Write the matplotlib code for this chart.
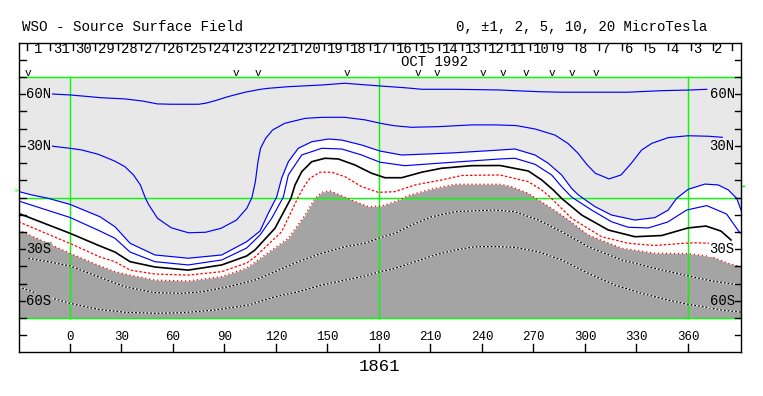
import numpy as np
import matplotlib
matplotlib.use("Agg")
import matplotlib.pyplot as plt

plt.rcParams["font.family"] = ["Liberation Mono", "DejaVu Sans Mono"]

LIGHT, DARK, GREEN, BLUE, RED = "#e8e8e8", "#a4a4a4", "#00ff00", "#0000ff", "#ff0000"

# contour traces (Carrington longitude, latitude)
A_lon = [-11, 0, 7, 18, 32, 42, 51, 59, 75, 79, 84, 92, 102, 111, 116, 127, 147, 160, 181, 195, 205, 224, 250,
         259, 273, 286, 325, 345, 362, 371]
A_lat = [60.2, 59.6, 59.0, 58.0, 57.3, 56.1, 54.4, 54.2, 54.2, 54.8, 56.1, 58.6, 61.2, 62.9, 63.5, 64.4, 65.4,
         66.4, 64.8, 63.8, 62.9, 62.9, 62.5, 62.1, 61.5, 61.2, 61.2, 62.1, 62.5, 62.9]

B_lon = [-11, 0, 7, 16.5, 26, 32, 37, 41, 44, 46, 51, 59, 69, 79, 88, 97, 103, 106, 108, 109.5, 111, 114, 118,
         125, 137, 147, 160, 172, 181, 189, 199, 215, 234, 248, 260, 271, 282.5, 290, 296, 301, 306, 314, 321,
         327, 333, 339, 348.5, 360, 372, 380]
B_lat = [29.9, 28.6, 27.6, 25.1, 21.2, 17.9, 13.1, 7.3, -0.5, -4.4, -12.1, -17.6, -20.5, -20.2, -17.9, -13.1,
         -6.3, 0, 9.2, 20.8, 28.6, 34.4, 39.2, 43.1, 46.0, 46.6, 46.6, 45.1, 43.1, 41.7, 40.8, 41.2, 42.2, 42.2,
         41.8, 39.8, 36.3, 31.5, 25.7, 19.3, 14.1, 10.8, 13.1, 19.9, 27.6, 31.5, 34.8, 35.9, 35.6, 35.0]

C_lon = [-30, -22.3, -12.6, 0, 17.5, 26.2, 35.0, 49.5, 68.9, 88.4, 102.9, 110.7, 115.5, 120.4, 123.3, 127.2,
         133.0, 140.8, 150.5, 158.3, 169.9, 180.6, 193.2, 208.7, 224.3, 250.5, 259.2, 270.9, 278.6, 286.4,
         292.2, 296.1, 305.8, 315.5, 329.1, 340.7, 348.5, 353.4, 360.2, 369.9, 377.6, 383.5, 388.4, 391.3]
C_lat = [3.5, 1.5, -0.5, -4.0, -11.2, -17.0, -26.6, -33.4, -35.3, -33.4, -25.7, -19.5, -9.2, 0.3, 11.2, 20.8,
         28.6, 32.4, 34.0, 33.4, 30.5, 27.0, 24.7, 25.3, 26.0, 27.6, 28.2, 24.7, 19.9, 13.1, 5.3, 1.5, -5.3,
         -10.2, -13.1, -11.7, -7.3, -0.5, 4.8, 7.8, 7.3, 4.4, -0.5, -8.3]

D_lon = [-30, 0, 17.5, 26.2, 35.0, 49.5, 68.9, 88.4, 102.9, 110.7, 117.5, 124.3, 127.2, 135.0, 146.6, 158.3,
         169.9, 180.6, 195.1, 214.5, 250.5, 259.2, 270.9, 280.6, 286.4, 292.2, 303.9, 315.5, 325.2, 336.9,
         348.3, 359.2, 370.9, 382.5, 390.3]
D_lat = [-2.0, -11.6, -19.5, -23.7, -31.7, -37.3, -39.2, -36.3, -29.4, -21.8, -12.1, 0.3, 13.1, 24.7, 28.6,
         28.2, 24.7, 20.5, 18.5, 19.9, 22.4, 22.8, 19.3, 13.1, 6.3, 0.3, -7.3, -14.1, -17.3, -17.7, -14.2, -7.3,
         -4.7, -9.6, -20.6]

E_lon = [-30, 0, 17.5, 26.2, 35.0, 49.5, 68.9, 88.4, 102.9, 107.8, 119.4, 128.7, 131.1, 135.0, 140.8, 148.5,
         156.3, 166.0, 175.7, 183.5, 193.2, 204.9, 216.5, 234.0, 250.5, 267.0, 274.8, 281.5, 286.4, 298.1,
         313.6, 329.1, 344.7, 360.0, 370.5, 379.2, 385.1]
E_lat = [-9.2, -20.8, -28.2, -31.7, -37.3, -40.4, -42.2, -39.2, -34.0, -30.5, -17.9, -0.5, 7.3, 15.0, 20.8,
         22.8, 22.4, 18.9, 14.1, 11.5, 11.5, 14.7, 17.0, 18.5, 18.6, 15.4, 10.2, 4.4, -0.5, -10.2, -18.9, -22.8,
         -22.1, -17.7, -16.6, -19.5, -24.7]

F_lon = [-30, 0, 17.5, 26.2, 35.0, 49.5, 68.9, 88.4, 102.9, 107.8, 123.3, 133.0, 136.9, 139.8, 145.6, 152.4,
         160.2, 169.9, 179.6, 189.3, 201.0, 216.5, 228.2, 250.5, 267.0, 274.8, 279.6, 292.2, 309.7, 325.2,
         340.8, 356.3, 364.1, 372.8]
F_lat = [-14.1, -26.7, -34.6, -37.3, -42.2, -44.5, -45.1, -43.1, -38.1, -34.6, -19.9, 0.3, 7.3, 11.2, 14.7,
         14.7, 12.1, 6.3, 3.0, 3.4, 7.3, 10.2, 12.8, 13.1, 9.2, 4.4, 0.3, -12.1, -22.8, -26.6, -27.9, -26.7,
         -26.3, -26.6]

G_lon = [-30, 0, 17.5, 26.2, 35.0, 49.5, 68.9, 88.4, 102.9, 107.8, 127.2, 136.9, 142.7, 146.6, 151.5, 156.3,
         164.1, 173.8, 181.6, 189.3, 198.1, 210.7, 224.3, 250.5, 257.3, 267.0, 286.4, 301.9, 321.4, 340.8,
         360.2, 373.8, 383.5, 391.3]
G_lat = [-18.9, -32.4, -39.8, -43.1, -45.1, -48.0, -48.5, -46.0, -41.0, -37.5, -23.7, -10.2, -0.5, 3.0, 3.8,
         1.9, -1.5, -5.3, -4.9, -2.4, 1.5, 4.9, 7.7, 7.7, 6.3, 2.4, -10.2, -21.8, -29.5, -32.4, -32.6, -34.4,
         -38.3, -40.4]

H_lon = [-24.3, -12.6, 0, 16.5, 32.0, 49.5, 65.1, 76.7, 92.2, 107.8, 119.4, 133.0, 146.6, 160.2, 171.8, 180.6,
         189.3, 199.0, 210.7, 224.3, 234.0, 247.6, 259.2, 272.8, 286.4, 301.9, 321.4, 340.8, 360.2, 373.8, 387.4]
H_lat = [-35.3, -37.3, -39.8, -46.0, -51.9, -55.3, -55.7, -54.8, -51.9, -48.0, -43.1, -37.3, -32.4, -28.6,
         -26.6, -23.4, -20.8, -16.0, -11.2, -8.3, -7.8, -7.3, -8.3, -13.1, -19.9, -28.6, -36.3, -41.2, -45.6,
         -48.5, -50.5]

I_lon = [-30, -16.5, 0, 16.5, 32.0, 49.5, 65.1, 84.5, 103.9, 119.4, 133.0, 146.6, 160.2, 171.8, 180.6, 189.3,
         201.0, 212.6, 224.3, 235.9, 247.6, 259.2, 272.8, 286.4, 301.9, 317.5, 333.0, 348.5, 360.2, 370.9,
         379.6, 391.3]
I_lat = [-51.9, -56.7, -61.5, -65.0, -66.7, -67.3, -67.0, -65.4, -62.5, -57.7, -54.8, -50.9, -48.0, -45.6,
         -43.1, -41.2, -37.3, -33.4, -30.5, -28.6, -28.5, -29.0, -31.5, -36.3, -44.1, -50.9, -55.7, -59.6,
         -62.1, -63.8, -65.4, -66.7]

# day-of-month scale along the top (OCT 1992, time runs right to left)
day_ticks = [-25.2, -11.9, 1.5, 14.8, 28.1, 41.5, 54.8, 68.1, 81.5, 94.8, 108.1, 121.5, 134.8, 148.1, 161.5,
             174.8, 188.1, 201.5, 214.8, 228.1, 241.5, 254.8, 268.1, 281.5, 294.8, 308.1, 321.5, 334.8, 348.1,
             361.5, 374.8, 385.4]
days = [1, 31, 30, 29, 28, 27, 26, 25, 24, 23, 22, 21, 20, 19, 18, 17, 16, 15, 14, 13, 12, 11, 10, 9, 8, 7,
        6, 5, 4, 3, 2]
obs_lon = [-24.5, 96.5, 109.5, 161.2, 202.7, 213.6, 240.4, 252.2, 265.4, 280.9, 292.5, 306.3]
lon_ticks = [0, 30, 60, 90, 120, 150, 180, 210, 240, 270, 300, 330, 360]
lat_ticks = [-70, -60, -50, -40, -30, -20, -10, 0, 10, 20, 30, 40, 50, 60, 70]
lat_labels = [60, 30, -30, -60]
lat_names = ["60N", "30N", "30S", "60S"]
left_bg = [LIGHT, LIGHT, DARK, DARK]
right_bg = [LIGHT, LIGHT, "white", DARK]

X0, X1 = -29.7, 390.9
fig = plt.figure(figsize=(7.63, 3.96), dpi=100)
ax = fig.add_axes([19 / 763, 44 / 396, 722 / 763, 309 / 396])
ax.set_xlim(X0, X1); ax.set_ylim(-89.8, 89.8)
ax.set_xticks([]); ax.set_yticks([])
for s in ax.spines.values():
    s.set_linewidth(1.0); s.set_color("black"); s.set_zorder(10)

# polarity shading
ax.fill_between(C_lon, C_lat, 70, color=LIGHT, lw=0, zorder=1)
ax.fill_between(G_lon, -70, G_lat, color=DARK, lw=0, zorder=1)

# green grid
for la in (70, 0, -70):
    ax.plot([X0, X1], [la, la], color=GREEN, lw=1.0, zorder=2)
for lo in (0, 180, 360):
    ax.plot([lo, lo], [-70, 70], color=GREEN, lw=1.0, zorder=2)

# contours
for lo, la in ((A_lon, A_lat), (B_lon, B_lat), (C_lon, C_lat), (D_lon, D_lat)):
    ax.plot(lo, la, color=BLUE, lw=0.85, zorder=4)
ax.plot(E_lon, E_lat, color="black", lw=1.2, zorder=4)
ax.plot(F_lon, F_lat, color=RED, lw=0.9, ls=(0, (2, 1.5)), zorder=4)
ax.plot(G_lon, G_lat, color=RED, lw=0.9, ls=(0, (1, 2.2)), zorder=4)
for lo, la in ((H_lon, H_lat), (I_lon, I_lat)):
    ax.plot(lo, la, color="white", lw=0.9, zorder=4)
    ax.plot(lo, la, color="black", lw=0.9, ls=(0, (1.5, 1.5)), zorder=5)

# latitude ticks / labels on both sides
for la in lat_ticks:
    ax.plot([X0, X0 + 4.3], [la, la], color="black", lw=1.0, zorder=6, clip_on=False)
    ax.plot([X1 - 3.6, X1], [la, la], color="black", lw=1.0, zorder=6, clip_on=False)
for la, t, bl, br in zip(lat_labels, lat_names, left_bg, right_bg):
    ax.text(-25.4, la, t, ha="left", va="center", fontsize=10, zorder=7,
            bbox=dict(facecolor=bl, edgecolor="none", pad=0.3))
    ax.text(387.2, la, t, ha="right", va="center", fontsize=10, zorder=7,
            bbox=dict(facecolor=br, edgecolor="none", pad=0.3))
for la in (80, -80):
    ax.plot([X0, X0 + 4.3], [la, la], color="black", lw=1.0)
    ax.plot([X1 - 3.6, X1], [la, la], color="black", lw=1.0)

# longitude axis
for lo in lon_ticks:
    ax.plot([lo, lo], [-89.8, -85.3], color="black", lw=1.0)
    ax.text(lo, -81.3, str(lo), ha="center", va="center", fontsize=9)

# day scale
for lo in day_ticks:
    ax.plot([lo, lo], [89.8, 85.8], color="black", lw=1.0)
for k, d in enumerate(days):
    lab = f"{d} " if (d < 10 and k > 0) else str(d)
    ax.text((day_ticks[k] + day_ticks[k + 1]) / 2, 86.6, lab, ha="center", va="center", fontsize=10)
ax.text(212.6, 79.0, "OCT 1992", ha="center", va="center", fontsize=10)
for lo in obs_lon:
    ax.text(lo, 70.4, "v", ha="center", va="baseline", fontsize=8, zorder=6)

ax.text(-31.7, 4.0, ">", color=GREEN, ha="center", va="center", fontsize=6, clip_on=False)
ax.plot([X1, X1 + 1.8], [6.7, 6.7], color=GREEN, lw=1.0, clip_on=False)
ax.text(180, -98.0, "1861", ha="center", va="center", fontsize=12.5)

fig.text(22 / 763, 1 - 27 / 396, "WSO - Source Surface Field", ha="left", va="center", fontsize=10.3)
fig.text(456 / 763, 1 - 27 / 396, "0, \u00b11, 2, 5, 10, 20 MicroTesla", ha="left", va="center", fontsize=10.1)

fig.savefig("out.png", dpi=100, facecolor="white")
